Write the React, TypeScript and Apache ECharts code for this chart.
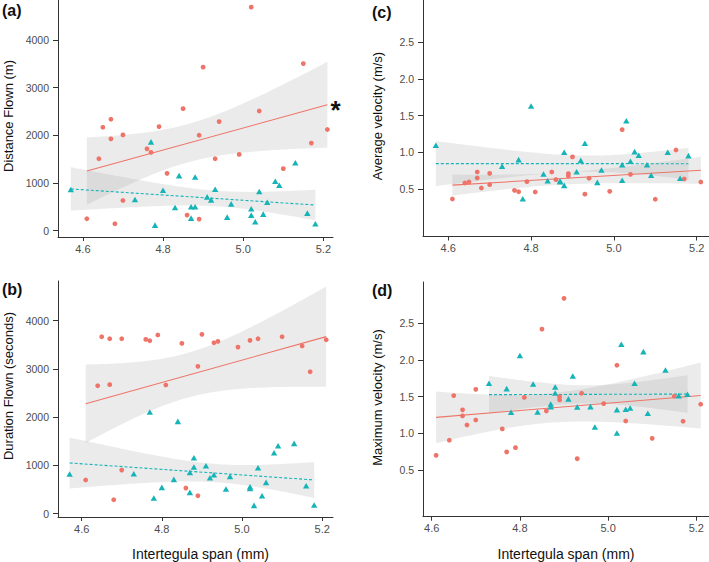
import React, { useEffect, useRef } from "react";
import * as echarts from "echarts";

// ---------- data ----------
const redSpan = [4.61, 4.64, 4.65, 4.67, 4.67, 4.68, 4.70, 4.70, 4.76, 4.77, 4.79, 4.81, 4.85, 4.86, 4.89, 4.89, 4.90, 4.93, 4.94, 4.99, 5.02, 5.04, 5.10, 5.15, 5.17, 5.21];
const redDistance = [250, 1510, 2170, 2337, 1927, 146, 2010, 633, 1718, 1642, 2184, 1203, 2560, 327, 2003, 243, 3430, 1510, 2289, 1600, 4689, 2511, 1301, 3506, 1837, 2122];
const redDuration = [698, 2653, 3668, 3627, 2674, 290, 3627, 905, 3613, 3585, 3703, 2667, 3530, 532, 3054, 373, 3717, 3544, 3572, 3454, 3592, 3627, 3668, 3475, 2943, 3606];
const redAvgVel = [0.364, 0.582, 0.595, 0.732, 0.65, 0.514, 0.714, 0.559, 0.482, 0.463, 0.60, 0.459, 0.732, 0.627, 0.71, 0.677, 0.937, 0.43, 0.646, 0.468, 1.309, 0.70, 0.36, 1.032, 0.636, 0.595];
const redMaxVel = [0.70, 0.905, 1.514, 1.32, 1.237, 1.114, 1.60, 1.182, 1.06, 0.746, 0.804, 1.49, 2.42, 1.305, 1.5, 1.455, 2.84, 0.654, 1.546, 1.405, 1.928, 1.168, 0.932, 1.505, 1.164, 1.396];

const tealSpan = [4.57, 4.73, 4.77, 4.78, 4.80, 4.83, 4.84, 4.87, 4.87, 4.88, 4.88, 4.91, 4.92, 4.93, 4.96, 4.97, 5.02, 5.02, 5.03, 5.04, 5.05, 5.06, 5.08, 5.09, 5.13, 5.16, 5.18];
const tealDistance = [863, 654, 1864, 118, 849, 487, 1155, 501, 264, 1127, 501, 710, 647, 870, 285, 563, 459, 327, 188, 821, 348, 598, 1037, 953, 1426, 369, 146];
const tealDuration = [822, 829, 2107, 325, 546, 712, 1914, 857, 442, 1161, 967, 995, 746, 808, 511, 774, 560, 525, 173, 953, 373, 649, 1264, 1409, 1458, 580, 180];
const tealAvgVel = [1.096, 0.81, 0.90, 0.368, 1.632, 0.705, 0.613, 0.609, 0.60, 1.0, 0.55, 0.736, 0.89, 1.123, 0.59, 0.76, 0.83, 0.62, 1.43, 0.878, 1.01, 0.96, 0.83, 0.687, 1.0, 0.646, 0.955];
const tealSpanD = [4.73, 4.77, 4.78, 4.80, 4.83, 4.84, 4.87, 4.87, 4.88, 4.88, 4.91, 4.92, 4.93, 4.96, 4.97, 5.02, 5.02, 5.03, 5.04, 5.05, 5.06, 5.08, 5.09, 5.13, 5.16, 5.18];
const tealMaxVel = [1.683, 1.61, 1.287, 2.06, 1.673, 1.29, 1.40, 1.364, 1.632, 1.55, 1.469, 1.782, 1.36, 1.364, 1.087, 1.323, 1.005, 2.215, 1.328, 1.346, 1.683, 2.114, 1.273, 1.864, 1.514, 1.533];

const spanTicks = [4.6, 4.8, 5.0, 5.2];
const flownTicks = [0, 1000, 2000, 3000, 4000];
const velocityTicks = [0.5, 1.0, 1.5, 2.0, 2.5];

const panelLabels = ["(a)", "(b)", "(c)", "(d)"];
const yTitles = ["Distance Flown (m)", "Duration Flown (seconds)", "Average velocity (m/s)", "Maximum velocity (m/s)"];
const xTitle = "Intertegula span (mm)";

// ---------- style ----------
const RED = "#EE7469";
const TEAL = "#16B3B7";
const BAND = "rgba(153,153,153,0.2)";
const AXIS = "#333333";
const TICKTXT = "#4D4D4D";
const FONT = "'Liberation Sans', Arial, Helvetica, sans-serif";

// ---------- linear model (geom_smooth, method = "lm") ----------
function t975(df: number) {
  const z = 1.959964;
  const g1 = (z ** 3 + z) / 4;
  const g2 = (5 * z ** 5 + 16 * z ** 3 + 3 * z) / 96;
  const g3 = (3 * z ** 7 + 19 * z ** 5 + 17 * z ** 3 - 15 * z) / 384;
  const g4 = (79 * z ** 9 + 776 * z ** 7 + 1482 * z ** 5 - 1920 * z ** 3 - 945 * z) / 92160;
  return z + g1 / df + g2 / df ** 2 + g3 / df ** 3 + g4 / df ** 4;
}

function lmFit(xs: number[], ys: number[]) {
  const n = xs.length;
  const mx = xs.reduce((s, v) => s + v, 0) / n;
  const my = ys.reduce((s, v) => s + v, 0) / n;
  let sxx = 0, sxy = 0;
  for (let i = 0; i < n; i++) {
    sxx += (xs[i] - mx) ** 2;
    sxy += (xs[i] - mx) * (ys[i] - my);
  }
  const b = sxy / sxx;
  const a = my - b * mx;
  let sse = 0;
  for (let i = 0; i < n; i++) sse += (ys[i] - a - b * xs[i]) ** 2;
  const s = Math.sqrt(sse / (n - 2));
  const t = t975(n - 2);
  const xmin = Math.min(...xs);
  const xmax = Math.max(...xs);
  const pred = (x: number) => a + b * x;
  const half = (x: number) => t * s * Math.sqrt(1 / n + (x - mx) ** 2 / sxx);
  const upper: number[][] = [];
  const lower: number[][] = [];
  const steps = 80;
  for (let k = 0; k <= steps; k++) {
    const x = xmin + ((xmax - xmin) * k) / steps;
    upper.push([x, pred(x) + half(x)]);
    lower.push([x, pred(x) - half(x)]);
  }
  return { line: [[xmin, pred(xmin)], [xmax, pred(xmax)]], upper, lower };
}

// ---------- layout ----------
const panels = [
  { grid: { left: 58, top: 0, width: 275, height: 237 }, x: [4.538, 5.224], y: [-132, 4839], yTicks: flownTicks, dec: 0,
    red: [redSpan, redDistance], teal: [tealSpan, tealDistance] },
  { grid: { left: 58, top: 281, width: 275, height: 236 }, x: [4.541, 5.227], y: [-68, 4823], yTicks: flownTicks, dec: 0,
    red: [redSpan, redDuration], teal: [tealSpan, tealDuration] },
  { grid: { left: 423, top: 0, width: 286, height: 236.5 }, x: [4.539, 5.2297], y: [-0.1476, 3.0767], yTicks: velocityTicks, dec: 1,
    red: [redSpan, redAvgVel], teal: [tealSpan, tealAvgVel] },
  { grid: { left: 423, top: 282, width: 286, height: 234.7 }, x: [4.5803, 5.2288], y: [-0.1367, 3.063], yTicks: velocityTicks, dec: 1,
    red: [redSpan, redMaxVel], teal: [tealSpanD, tealMaxVel] },
];

const labelPos = [
  { x: 2, y: 2 },
  { x: 2, y: 281 },
  { x: 372, y: 4 },
  { x: 372, y: 282 },
];
const yTitlePos = [
  { x: 8, y: 116 },
  { x: 8, y: 386 },
  { x: 377, y: 116 },
  { x: 377.5, y: 397.5 },
];

function bandSeries(idx: number, fit: any) {
  return {
    type: "custom",
    xAxisIndex: idx,
    yAxisIndex: idx,
    silent: true,
    z: 1,
    clip: true,
    data: [fit.line[0]],
    renderItem: (_params: any, api: any) => {
      const pts = fit.upper.map((p: number[]) => api.coord(p))
        .concat(fit.lower.slice().reverse().map((p: number[]) => api.coord(p)));
      return { type: "polygon", shape: { points: pts }, style: { fill: BAND } };
    },
  };
}

function buildOption() {
  const grid: any[] = [];
  const xAxis: any[] = [];
  const yAxis: any[] = [];
  const series: any[] = [];
  const graphic: any[] = [];

  panels.forEach((p, i) => {
    grid.push({ ...p.grid, containLabel: false });
    xAxis.push({
      type: "value", gridIndex: i, min: p.x[0], max: p.x[1],
      axisLine: { show: true, onZero: false, lineStyle: { color: AXIS, width: 1 } },
      axisTick: { show: true, length: 4, customValues: spanTicks, lineStyle: { color: AXIS } },
      axisLabel: { customValues: spanTicks, formatter: (v: number) => v.toFixed(1), color: TICKTXT, fontSize: 11, margin: 6, fontFamily: FONT },
      splitLine: { show: false },
    });
    yAxis.push({
      type: "value", gridIndex: i, min: p.y[0], max: p.y[1],
      axisLine: { show: true, onZero: false, lineStyle: { color: AXIS, width: 1 } },
      axisTick: { show: true, length: 5, customValues: p.yTicks, lineStyle: { color: AXIS } },
      axisLabel: { customValues: p.yTicks, formatter: (v: number) => v.toFixed(p.dec), color: TICKTXT, fontSize: 10.5, margin: 9, fontFamily: FONT },
      splitLine: { show: false },
    });

    const redFit = lmFit(p.red[0], p.red[1]);
    const tealFit = lmFit(p.teal[0], p.teal[1]);

    series.push(bandSeries(i, redFit));
    series.push(bandSeries(i, tealFit));
    series.push({
      type: "line", xAxisIndex: i, yAxisIndex: i, data: redFit.line, showSymbol: false, silent: true, z: 3,
      lineStyle: { color: RED, width: 1.1, type: "solid" },
    });
    series.push({
      type: "line", xAxisIndex: i, yAxisIndex: i, data: tealFit.line, showSymbol: false, silent: true, z: 3,
      lineStyle: { color: TEAL, width: 1.1, type: [3, 2] },
    });
    series.push({
      type: "scatter", xAxisIndex: i, yAxisIndex: i, symbol: "circle", symbolSize: 4.8, z: 4,
      itemStyle: { color: RED, opacity: 1 },
      data: p.red[0].map((x, k) => [x, p.red[1][k]]),
    });
    series.push({
      type: "scatter", xAxisIndex: i, yAxisIndex: i, symbol: "triangle", symbolSize: [6.4, 5.6], z: 4,
      itemStyle: { color: TEAL, opacity: 1 },
      data: p.teal[0].map((x, k) => [x, p.teal[1][k]]),
    });

    graphic.push({
      type: "text", x: labelPos[i].x, y: labelPos[i].y,
      style: { text: panelLabels[i], fontSize: 16, fontWeight: "bold", fontFamily: FONT, fill: "#111", textAlign: "left", textVerticalAlign: "top", align: "left", verticalAlign: "top" },
    });
    graphic.push({
      type: "text", x: yTitlePos[i].x, y: yTitlePos[i].y, rotation: Math.PI / 2,
      style: { text: yTitles[i], fontSize: 13, fontFamily: FONT, fill: "#111", textAlign: "center", textVerticalAlign: "middle", align: "center", verticalAlign: "middle" },
    });
  });

  graphic.push({
    type: "text", x: 200.5, y: 554,
    style: { text: xTitle, fontSize: 14, fontFamily: FONT, fill: "#111", textAlign: "center", textVerticalAlign: "middle", align: "center", verticalAlign: "middle" },
  });
  graphic.push({
    type: "text", x: 566, y: 554,
    style: { text: xTitle, fontSize: 14, fontFamily: FONT, fill: "#111", textAlign: "center", textVerticalAlign: "middle", align: "center", verticalAlign: "middle" },
  });
  graphic.push({
    type: "text", x: 335.5, y: 110,
    style: { text: "*", fontSize: 26, fontWeight: "bold", fontFamily: FONT, fill: "#111", textAlign: "center", textVerticalAlign: "middle", align: "center", verticalAlign: "middle" },
  });

  return { animation: false, backgroundColor: "#ffffff", grid, xAxis, yAxis, series, graphic };
}

export default function App() {
  const ref = useRef<HTMLDivElement>(null);
  useEffect(() => {
    if (!ref.current) return;
    const chart = echarts.init(ref.current, null, { renderer: "svg", width: 709, height: 562 });
    chart.setOption(buildOption() as any);
    return () => chart.dispose();
  }, []);
  return (
    <div
      ref={ref}
      style={{ position: "fixed", left: 0, top: 0, width: 709, height: 562, background: "#fff" }}
    />
  );
}
